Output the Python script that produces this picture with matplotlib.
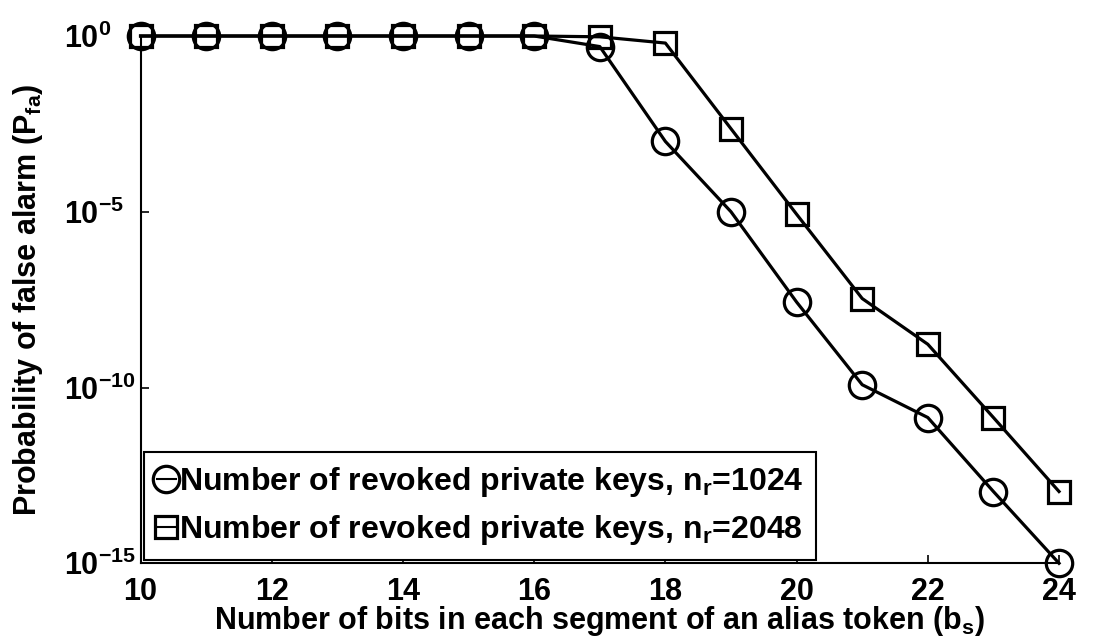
import math
import matplotlib
matplotlib.use("Agg")
import matplotlib.pyplot as plt
from matplotlib.ticker import FixedLocator, FuncFormatter

plt.rcParams['font.family'] = ['Liberation Sans', 'DejaVu Sans']
plt.rcParams['font.weight'] = 'bold'
plt.rcParams['mathtext.fontset'] = 'custom'
plt.rcParams['mathtext.rm'] = 'Liberation Sans:bold'
plt.rcParams['mathtext.it'] = 'Liberation Sans:bold'
plt.rcParams['mathtext.bf'] = 'Liberation Sans:bold'

# data
bits = [10, 11, 12, 13, 14, 15, 16, 17, 18, 19, 20, 21, 22, 23, 24]
pfa_1024 = [1, 1, 1, 1, 1, 1, 1, 0.5, 1e-3, 1e-5, 2.7e-8, 1.2e-10,
            1.4e-11, 1.1e-13, 1e-15]
pfa_2048 = [1, 1, 1, 1, 1, 1, 1, 0.95, 0.63, 2.3e-3, 8.5e-6, 3.4e-8,
            1.7e-9, 1.4e-11, 1.1e-13]
labels = ['Number of revoked private keys, n$_r$=1024',
          'Number of revoked private keys, n$_r$=2048']

fig = plt.figure(figsize=(10.98, 6.43), dpi=100)
ax = fig.add_axes([0.128, 0.124, 0.8365, 0.82])

ax.semilogy(bits, pfa_1024, '-o', color='black', lw=2.3, ms=19,
            mfc='none', mew=2.3, clip_on=False, label=labels[0])
ax.semilogy(bits, pfa_2048, '-s', color='black', lw=2.3, ms=16,
            mfc='none', mew=2.3, clip_on=False, label=labels[1])

ax.set_xlim(10, 24)
ax.set_ylim(1e-15, 1)
ax.set_xticks([10, 12, 14, 16, 18, 20, 22, 24])
ax.yaxis.set_major_locator(FixedLocator([1e-15, 1e-10, 1e-5, 1]))
ax.yaxis.set_minor_locator(FixedLocator([]))
ax.yaxis.set_major_formatter(FuncFormatter(
    lambda v, p: r'$10^{%d}$' % round(math.log10(v))))
ax.tick_params(direction='in', labelsize=22, length=6, width=1.2)
ax.tick_params(axis='x', pad=10)
ax.tick_params(axis='y', pad=55)
for lab in ax.get_yticklabels():
    lab.set_horizontalalignment('left')
for s in ['top', 'right']:
    ax.spines[s].set_visible(False)
for s in ['left', 'bottom']:
    ax.spines[s].set_linewidth(1.5)

ax.set_xlabel('Number of bits in each segment of an alias token (b$_s$)',
              fontsize=22, fontweight='bold', labelpad=-2)
ax.set_ylabel('Probability of false alarm (P$_{fa}$)',
              fontsize=22, fontweight='bold')
ax.yaxis.set_label_coords(-0.104, 0.5)

leg = ax.legend(loc='lower left', fontsize=23, handlelength=0.6,
                handletextpad=0.1, borderpad=0.4, labelspacing=0.45,
                borderaxespad=0.1, fancybox=False, edgecolor='black',
                framealpha=1)
leg.get_frame().set_linewidth(1.5)
for h in leg.legend_handles:
    h.set_linewidth(1.5)

fig.savefig('out.png', dpi=100)
